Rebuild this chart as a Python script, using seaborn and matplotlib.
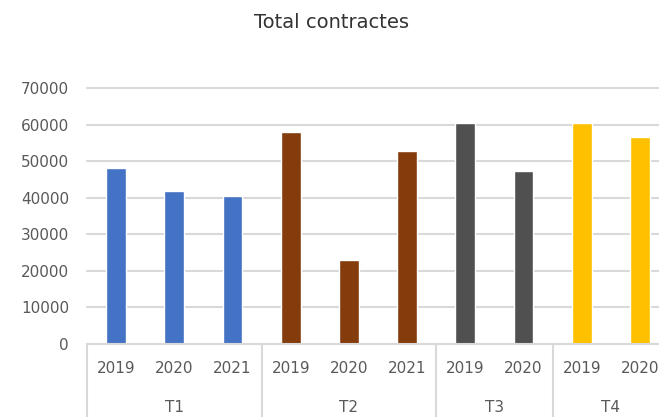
import matplotlib
matplotlib.use("Agg")
import matplotlib.pyplot as plt
import seaborn as sns
import pandas as pd

groups = ["T1", "T1", "T1", "T2", "T2", "T2", "T3", "T3", "T4", "T4"]
years = ["2019", "2020", "2021", "2019", "2020", "2021", "2019", "2020", "2019", "2020"]
values = [48100, 42000, 40400, 58000, 22900, 52800, 60500, 47300, 60500, 56600]
group_names = ["T1", "T2", "T3", "T4"]
group_colors = ["#4472C4", "#843C0C", "#505050", "#FFC000"]
y_ticks = [0, 10000, 20000, 30000, 40000, 50000, 60000, 70000]
title = "Total contractes"

sns.set_style("white")
plt.rcParams["font.family"] = ["DejaVu Sans"]

labels = [f"{g}-{y}" for g, y in zip(groups, years)]
df = pd.DataFrame({"label": labels, "value": values, "group": groups})

W, H = 659, 417
fig = plt.figure(figsize=(W / 100, H / 100), dpi=100)
x0, x1 = 87, 669
ytop, ybot = 88.3, 344
ax = fig.add_axes([x0 / W, 1 - ybot / H, (x1 - x0) / W, (ybot - ytop) / H])

sns.barplot(data=df, x="label", y="value", hue="group", order=labels,
            hue_order=group_names, palette=group_colors, dodge=False,
            width=0.34, legend=False, ax=ax, saturation=1)

fs = 11
ax.set_ylim(0, 70000)
ax.set_xlim(-0.5, len(labels) - 0.5)
ax.set_yticks(y_ticks)
ax.set_yticklabels([str(t) for t in y_ticks], fontsize=fs, color="#595959")
ax.tick_params(axis="y", length=0, pad=13)
ax.tick_params(axis="x", length=0, pad=12)
ax.set_xticks(range(len(labels)))
ax.set_xticklabels(years, fontsize=fs, color="#595959")
ax.set_xlabel("")
ax.set_ylabel("")
ax.yaxis.grid(True, color="#D9D9D9", linewidth=1.5)
for gl in ax.get_ygridlines():
    gl.set_clip_on(False)
ax.set_axisbelow(True)
for s in ["left", "right", "top"]:
    ax.spines[s].set_visible(False)
ax.spines["bottom"].set_color("#D9D9D9")
ax.spines["bottom"].set_linewidth(1.5)

# multi-level category axis
ax_h = ybot - ytop
sep_bottom = -(H - ybot) / ax_h
bounds = [-0.5]
pos = 0
starts = []
for g in group_names:
    n = groups.count(g)
    starts.append((pos, n))
    pos += n
    bounds.append(pos - 0.5)
trans = ax.get_xaxis_transform()
for b in bounds:
    ax.plot([b, b], [0, sep_bottom], transform=trans, color="#D9D9D9",
            linewidth=1.5, clip_on=False)
for g, (st, n) in zip(group_names, starts):
    ax.text(st + (n - 1) / 2, -(408 - ybot) / ax_h, g, transform=trans,
            ha="center", va="center", fontsize=fs, color="#595959")

fig.text(332 / W, 1 - 22 / H, title, ha="center", va="center",
         fontsize=14, color="#333333")

fig.savefig("out.png", dpi=100)
